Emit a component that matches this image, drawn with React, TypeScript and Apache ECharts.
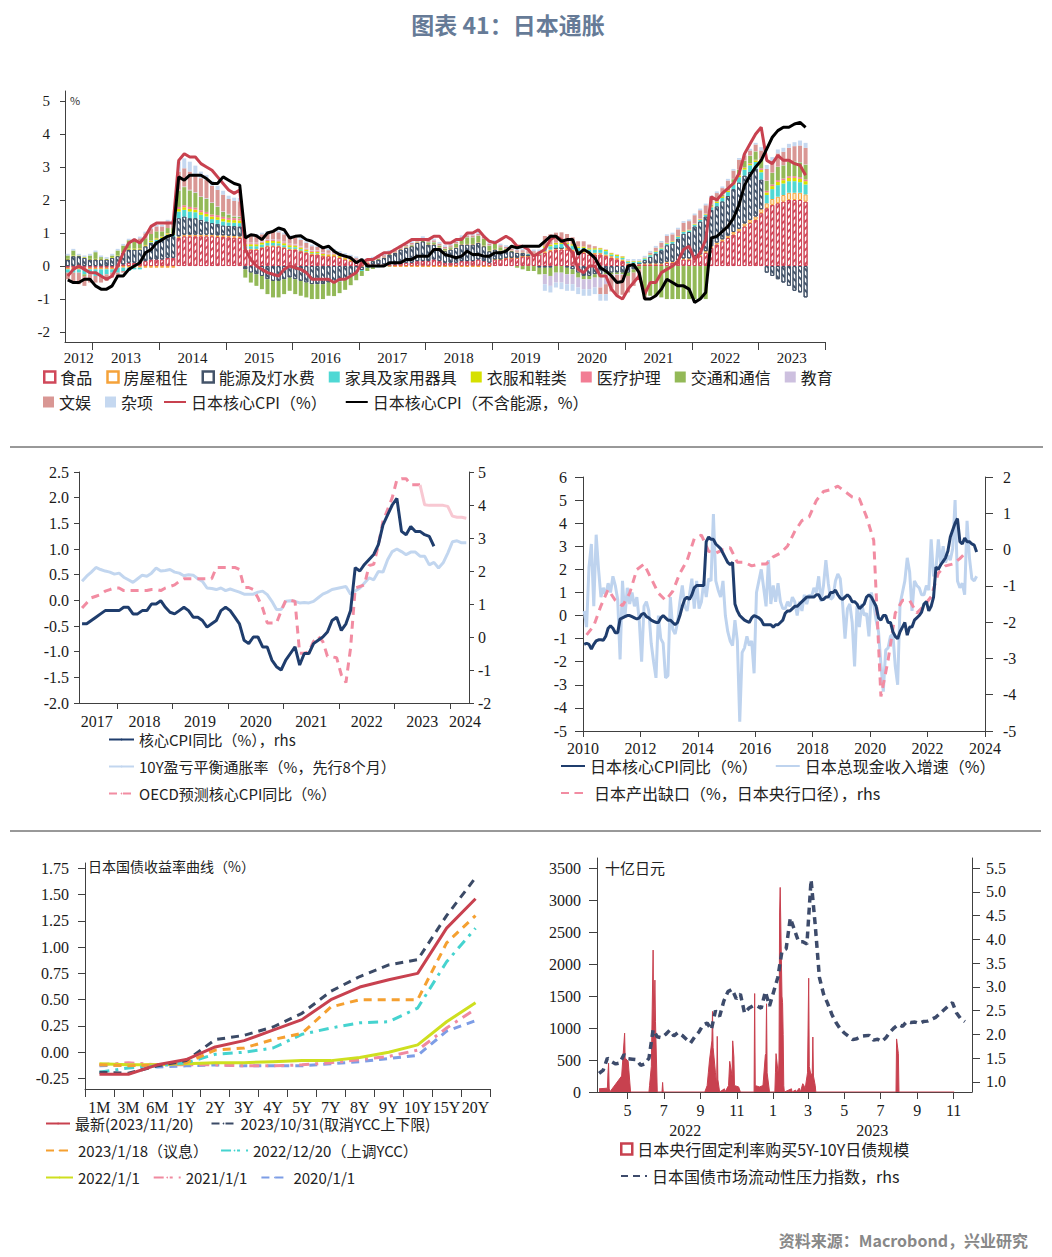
import React, { useEffect, useRef } from 'react';
import * as echarts from 'echarts';

const SERIF = 'Liberation Serif';
const CJK = 'Noto Sans CJK SC';

// ================= Panel 1: contributions to Japan core CPI (monthly, 2012-08 .. 2023-09) =================
const food = [
  [-0.05, -0.05, -0.05, -0.05, -0.05],
  [-0.05, -0.05, -0.05, -0.05, 0.0, 0.05, 0.1, 0.1, 0.1, 0.15, 0.2, 0.2],
  [0.2, 0.25, 0.25, 0.85, 0.9, 0.9, 0.9, 0.9, 0.9, 0.9, 0.88, 0.88],
  [0.87, 0.86, 0.85, 0.5, 0.5, 0.5, 0.55, 0.6, 0.6, 0.6, 0.55, 0.5],
  [0.5, 0.45, 0.4, 0.35, 0.35, 0.3, 0.3, 0.3, 0.25, 0.2, 0.15, 0.1],
  [0.1, 0.1, 0.05, 0.05, 0.05, 0.05, 0.05, 0.1, 0.1, 0.1, 0.15, 0.15],
  [0.15, 0.2, 0.15, 0.1, 0.1, 0.1, 0.15, 0.15, 0.15, 0.2, 0.15, 0.1],
  [0.2, 0.2, 0.25, 0.25, 0.25, 0.3, 0.3, 0.35, 0.35, 0.4, 0.45, 0.5],
  [0.5, 0.5, 0.45, 0.4, 0.4, 0.35, 0.35, 0.35, 0.3, 0.25, 0.2, 0.15],
  [0.05, 0.05, 0.05, 0.05, 0.05, 0.05, 0.05, 0.1, 0.1, 0.15, 0.2, 0.2],
  [0.25, 0.3, 0.4, 0.55, 0.65, 0.75, 0.85, 0.95, 1.05, 1.2, 1.3, 1.4],
  [1.6, 1.75, 1.85, 1.9, 1.95, 2.0, 2.0, 2.0, 1.95],
].flat();
const housing = [
  [-0.05, -0.05, -0.05, -0.05, -0.05],
  [-0.05, -0.05, -0.05, -0.05, -0.05, -0.05, -0.05, -0.05, -0.05, -0.05, -0.05, -0.05],
  [-0.05, -0.05, -0.05, 0.05, 0.05, 0.05, 0.05, 0.05, 0.05, 0.05, 0.05, 0.05],
  [0.05, 0.05, 0.05, 0.02, 0.02, 0.02, 0.02, 0.02, 0.02, 0.02, 0.02, 0.02],
  [0.02, 0.02, 0.02, 0.02, 0.02, 0.02, 0.02, 0.02, 0.02, 0.02, 0.02, 0.02],
  [-0.02, -0.02, -0.02, -0.02, -0.02, -0.02, -0.02, -0.02, -0.02, -0.02, -0.02, -0.02],
  [-0.02, -0.02, -0.02, -0.02, -0.02, -0.02, -0.02, -0.02, -0.02, -0.02, -0.02, -0.02],
  [0, 0, 0, 0, 0, 0, 0, 0, 0, 0.05, 0.05, 0.05],
  [0.05, 0.05, 0.05, 0.05, 0.05, 0.05, 0.05, 0.05, 0.05, 0.05, 0.05, 0.05],
  [0.03, 0.03, 0.03, 0.03, 0.03, 0.03, 0.03, 0.03, 0.03, 0.03, 0.03, 0.03],
  [0.05, 0.05, 0.05, 0.05, 0.06, 0.06, 0.07, 0.08, 0.08, 0.09, 0.1, 0.1],
  [0.12, 0.15, 0.18, 0.2, 0.2, 0.22, 0.22, 0.22, 0.22],
].flat();
const energy = [
  [0.2, 0.3, 0.3, 0.25, 0.2],
  [0.2, 0.2, 0.2, 0.25, 0.3, 0.35, 0.4, 0.4, 0.4, 0.45, 0.5, 0.55],
  [0.6, 0.65, 0.65, 0.55, 0.55, 0.5, 0.5, 0.45, 0.4, 0.35, 0.35, 0.3],
  [0.3, 0.3, 0.3, -0.1, -0.2, -0.25, -0.3, -0.4, -0.45, -0.45, -0.4, -0.35],
  [-0.4, -0.45, -0.5, -0.55, -0.55, -0.55, -0.5, -0.5, -0.45, -0.4, -0.3, -0.2],
  [-0.1, 0.0, 0.1, 0.15, 0.2, 0.3, 0.35, 0.4, 0.45, 0.5, 0.55, 0.6],
  [0.5, 0.45, 0.4, 0.35, 0.4, 0.45, 0.5, 0.5, 0.5, 0.5, 0.45, 0.35],
  [0.3, 0.25, 0.2, 0.2, 0.15, 0.1, 0.05, 0.0, -0.05, -0.05, -0.05, 0.0],
  [0.0, -0.05, -0.1, -0.2, -0.3, -0.3, -0.25, -0.25, -0.2, -0.2, -0.2, -0.2],
  [-0.2, -0.1, 0.0, 0.1, 0.2, 0.3, 0.4, 0.5, 0.55, 0.65, 0.75, 0.8],
  [0.9, 1.0, 1.05, 1.1, 1.1, 1.15, 1.2, 1.3, 1.4, 1.45, 1.45, 1.45],
  [0.9, -0.2, -0.3, -0.4, -0.5, -0.6, -0.75, -0.8, -0.95],
].flat();
const furniture = [
  [-0.1, -0.1, -0.1, -0.15, -0.15],
  [-0.2, -0.2, -0.15, -0.1, -0.15, -0.1, -0.1, -0.05, -0.05, 0.0, 0.02, 0.05],
  [0.05, 0.05, 0.05, 0.2, 0.2, 0.2, 0.18, 0.15, 0.15, 0.12, 0.12, 0.12],
  [0.1, 0.1, 0.1, 0.08, 0.08, 0.08, 0.08, 0.08, 0.08, 0.07, 0.06, 0.05],
  [0.05, 0.04, 0.03, 0.02, 0.02, 0.01, 0.0, -0.01, -0.02, -0.02, -0.03, -0.03],
  [-0.03, -0.03, -0.02, -0.02, -0.01, -0.01, 0, 0, 0, 0, 0, 0],
  [0, 0, 0, 0, 0, 0, 0, 0, 0, 0, 0, 0],
  [0, 0, 0, 0, 0, 0, 0.02, 0.02, 0.02, 0.1, 0.1, 0.1],
  [0.12, 0.12, 0.12, 0.1, 0.1, 0.1, 0.1, 0.1, 0.1, 0.05, 0.05, 0.05],
  [0.05, 0.05, 0.05, 0.05, 0.05, 0.05, 0.05, 0.05, 0.05, 0.05, 0.05, 0.05],
  [0.05, 0.05, 0.05, 0.08, 0.1, 0.1, 0.12, 0.14, 0.16, 0.18, 0.2, 0.2],
  [0.22, 0.25, 0.3, 0.35, 0.35, 0.35, 0.35, 0.32, 0.3],
].flat();
const clothing = [
  [0.02, 0.02, 0.02, 0.02, 0.02],
  [0.02, 0.02, 0.02, 0.02, 0.02, 0.02, 0.03, 0.03, 0.03, 0.03, 0.04, 0.04],
  [0.04, 0.04, 0.04, 0.08, 0.08, 0.08, 0.08, 0.08, 0.08, 0.08, 0.08, 0.08],
  [0.08, 0.08, 0.08, 0.06, 0.06, 0.06, 0.06, 0.06, 0.06, 0.06, 0.06, 0.06],
  [0.05, 0.05, 0.05, 0.04, 0.04, 0.04, 0.03, 0.03, 0.03, 0.02, 0.02, 0.02],
  [0.01, 0.01, 0.01, 0.01, 0.01, 0.01, 0.01, 0.01, 0.01, 0.01, 0.01, 0.01],
  [0.01, 0.01, 0.01, 0.01, 0.01, 0.01, 0.01, 0.01, 0.01, 0.01, 0.01, 0.01],
  [0.01, 0.01, 0.01, 0.01, 0.01, 0.01, 0.01, 0.01, 0.01, 0.05, 0.05, 0.05],
  [0.04, 0.04, 0.04, 0.04, 0.04, 0.04, 0.04, 0.04, 0.04, 0.04, 0.04, 0.04],
  [0.02, 0.02, 0.02, 0.02, 0.02, 0.02, 0.02, 0.02, 0.02, 0.02, 0.02, 0.02],
  [0.02, 0.02, 0.02, 0.03, 0.03, 0.03, 0.04, 0.04, 0.05, 0.05, 0.05, 0.05],
  [0.07, 0.08, 0.09, 0.1, 0.1, 0.1, 0.1, 0.1, 0.1],
].flat();
const medical = [
  [0, 0, 0, 0, 0],
  [0, 0, 0, 0, 0, 0, 0, 0, 0.01, 0.01, 0.01, 0.01],
  [0.01, 0.01, 0.01, 0.06, 0.06, 0.06, 0.06, 0.06, 0.06, 0.06, 0.06, 0.06],
  [0.06, 0.06, 0.06, 0.03, 0.03, 0.03, 0.03, 0.03, 0.03, 0.03, 0.03, 0.03],
  [0.03, 0.03, 0.03, 0.03, 0.03, 0.03, 0.03, 0.03, 0.03, 0.03, 0.03, 0.03],
  [0.01, 0.01, 0.01, 0.01, 0.01, 0.01, 0.01, 0.01, 0.01, 0.01, 0.01, 0.01],
  [0.01, 0.01, 0.01, 0.01, 0.01, 0.01, 0.01, 0.01, 0.01, 0.01, 0.01, 0.01],
  [0.01, 0.01, 0.01, 0.01, 0.01, 0.01, 0.01, 0.01, 0.01, 0.01, 0.01, 0.01],
  [0.01, 0.01, 0.01, 0.01, 0.01, 0.01, 0.01, 0.01, 0.01, 0.01, 0.01, 0.01],
  [0.01, 0.01, 0.01, 0.01, 0.01, 0.01, 0.01, 0.01, 0.01, 0.01, 0.01, 0.01],
  [0.01, 0.01, 0.01, 0.01, 0.01, 0.01, 0.02, 0.02, 0.02, 0.02, 0.02, 0.02],
  [0.05, 0.05, 0.05, 0.05, 0.05, 0.05, 0.05, 0.05, 0.05],
].flat();
const transport = [
  [0.1, 0.15, 0.0, -0.05, 0.1],
  [0.2, 0.05, 0.0, 0.05, 0.15, 0.2, 0.25, 0.2, 0.2, 0.2, 0.2, 0.2],
  [0.15, 0.15, 0.15, 0.5, 0.55, 0.5, 0.45, 0.4, 0.4, 0.35, 0.25, 0.15],
  [0.1, 0.05, 0.05, -0.25, -0.3, -0.35, -0.4, -0.45, -0.5, -0.5, -0.45, -0.4],
  [-0.45, -0.45, -0.45, -0.45, -0.45, -0.45, -0.4, -0.4, -0.35, -0.3, -0.25, -0.2],
  [-0.15, -0.1, -0.05, 0, 0, 0, 0, 0, 0.02, 0.02, 0.02, 0.02],
  [0.05, 0.05, 0.05, 0.05, 0.05, 0.1, 0.15, 0.2, 0.2, 0.2, 0.2, 0.15],
  [0.15, 0.1, 0.05, 0.0, -0.05, -0.1, -0.15, -0.15, -0.2, -0.2, -0.25, -0.2],
  [-0.2, -0.2, -0.15, -0.15, -0.1, -0.1, -0.1, -0.1, -0.05, -0.05, -0.05, -0.05],
  [-0.1, -0.1, -0.1, -0.9, -0.9, -0.9, -0.95, -1.0, -1.0, -1.0, -1.0, -1.0],
  [-1.0, -1.0, -1.0, 0.05, 0.05, 0.05, 0.08, 0.1, 0.15, 0.2, 0.22, 0.25],
  [0.28, 0.3, 0.35, 0.4, 0.4, 0.45, 0.45, 0.45, 0.45],
].flat();
const education = [
  [0, 0, 0, 0, 0],
  [0, 0, 0, 0, 0, 0, 0, 0, 0, 0, 0, 0],
  [0, 0, 0, 0.02, 0.02, 0.02, 0.02, 0.02, 0.02, 0.02, 0.02, 0.02],
  [0.02, 0.02, 0.02, 0.02, 0.02, 0.02, 0.02, 0.02, 0.02, 0.02, 0.02, 0.02],
  [0.02, 0.02, 0.02, 0.02, 0.02, 0.02, 0.02, 0.02, 0.02, 0.02, 0.02, 0.02],
  [0.01, 0.01, 0.01, 0.01, 0.01, 0.01, 0.01, 0.01, 0.01, 0.01, 0.01, 0.01],
  [0.01, 0.01, 0.01, 0.01, 0.01, 0.01, 0.01, 0.01, 0.01, 0.01, 0.01, 0.01],
  [0.01, 0.01, 0.01, 0.01, 0.01, 0.01, 0.01, 0.01, 0.01, -0.3, -0.3, -0.3],
  [-0.3, -0.3, -0.3, -0.3, -0.3, -0.3, -0.3, -0.3, -0.3, -0.02, -0.02, -0.02],
  [0, 0, 0, 0, 0, 0, 0, 0, 0, 0, 0, 0],
  [0.01, 0.01, 0.01, 0.01, 0.01, 0.01, 0.01, 0.01, 0.01, 0.01, 0.01, 0.01],
  [0.01, 0.01, 0.01, 0.01, 0.01, 0.01, 0.01, 0.01, 0.01],
].flat();
const culture = [
  [-0.2, -0.3, -0.35, -0.3, -0.25],
  [-0.2, -0.2, -0.2, -0.15, -0.1, -0.05, 0.0, 0.05, 0.1, 0.15, 0.15, 0.15],
  [0.15, 0.2, 0.2, 0.55, 0.55, 0.55, 0.55, 0.55, 0.55, 0.5, 0.5, 0.5],
  [0.45, 0.45, 0.45, 0.2, 0.2, 0.2, 0.2, 0.2, 0.22, 0.22, 0.22, 0.2],
  [0.2, 0.18, 0.15, 0.12, 0.1, 0.1, 0.08, 0.06, 0.05, 0.05, 0.05, 0.05],
  [0.05, 0.05, 0.05, 0.05, 0.05, 0.05, 0.05, 0.05, 0.05, 0.05, 0.05, 0.05],
  [0.05, 0.05, 0.05, 0.05, 0.05, 0.05, 0.05, 0.05, 0.05, 0.05, 0.05, 0.05],
  [0.05, 0.05, 0.05, 0.05, 0.05, 0.05, 0.05, 0.05, 0.05, 0.3, 0.3, 0.3],
  [0.3, 0.25, 0.2, 0.15, 0.15, 0.1, 0.05, -0.2, -0.3, -0.5, -0.6, -0.6],
  [-0.5, -0.4, -0.3, -0.1, 0.05, 0.1, 0.15, 0.2, 0.2, 0.2, 0.25, 0.25],
  [0.25, 0.25, 0.25, 0.2, 0.2, 0.2, 0.2, 0.25, 0.3, 0.15, 0.15, 0.2],
  [0.25, 0.35, 0.35, 0.4, 0.4, 0.4, 0.45, 0.5, 0.5],
].flat();
const misc = [
  [0.05, 0.05, 0.05, 0.05, 0.05],
  [0.05, 0.05, 0.05, 0.05, 0.05, 0.05, 0.05, 0.05, 0.05, 0.05, 0.05, 0.05],
  [0.05, 0.05, 0.05, 0.3, 0.3, 0.3, 0.25, 0.2, 0.15, 0.15, 0.12, 0.12],
  [0.1, 0.1, 0.1, 0.05, 0.05, 0.05, 0.05, 0.05, 0.05, 0.05, 0.05, 0.05],
  [0.05, 0.05, 0.05, 0.05, 0.05, 0.05, 0.05, 0.05, 0.05, 0.05, 0.05, 0.05],
  [0.05, 0.05, 0.05, 0.05, 0.05, 0.05, 0.05, 0.05, 0.05, 0.05, 0.05, 0.05],
  [0.05, 0.05, 0.05, 0.05, 0.05, 0.05, 0.05, 0.05, 0.05, 0.05, 0.05, 0.05],
  [0.05, 0.05, 0.05, 0.05, 0.05, 0.05, 0.05, 0.05, 0.05, -0.2, -0.2, -0.15],
  [-0.2, -0.2, -0.2, -0.2, -0.2, -0.2, -0.2, -0.2, -0.2, 0, 0, 0],
  [0.05, 0.05, 0.05, 0.05, 0.05, 0.05, 0.05, 0.05, 0.05, 0.05, 0.05, 0.05],
  [0.05, 0.05, 0.05, 0.05, 0.05, 0.05, 0.05, 0.05, 0.05, 0.05, 0.05, 0.05],
  [0.1, 0.12, 0.12, 0.12, 0.12, 0.12, 0.12, 0.15, 0.15],
].flat();
// core CPI ex energy (black line), 2012-08 .. 2023-09
const coreExEnergy = [
  [-0.42, -0.5, -0.5, -0.4, -0.4],
  [-0.6, -0.7, -0.7, -0.6, -0.3, -0.3, -0.1, 0.0, 0.1, 0.4, 0.5, 0.7],
  [0.8, 0.9, 0.95, 2.7, 2.6, 2.75, 2.75, 2.75, 2.65, 2.5, 2.5, 2.7],
  [2.6, 2.5, 2.45, 0.85, 0.95, 0.92, 0.8, 1.0, 1.05, 1.15, 1.1, 0.85],
  [0.9, 0.92, 0.8, 0.75, 0.65, 0.55, 0.6, 0.45, 0.35, 0.3, 0.25, 0.1],
  [0.2, 0.0, 0.0, 0.0, 0.0, 0.1, 0.1, 0.1, 0.2, 0.2, 0.3, 0.3],
  [0.3, 0.5, 0.5, 0.35, 0.3, 0.25, 0.3, 0.45, 0.35, 0.35, 0.3, 0.3],
  [0.4, 0.4, 0.45, 0.6, 0.55, 0.6, 0.6, 0.6, 0.6, 0.75, 0.9, 0.9],
  [0.75, 0.8, 0.8, 0.35, 0.5, 0.4, 0.25, -0.05, -0.15, -0.3, -0.5, -0.47],
  [0.0, 0.05, -0.2, -1.0, -1.0, -0.9, -0.7, -0.4, -0.5, -0.6, -0.6, -0.7],
  [-1.1, -1.0, -0.8, 0.85, 0.9, 1.05, 1.2, 1.45, 1.85, 2.45, 2.75, 3.0],
  [3.2, 3.55, 3.9, 4.1, 4.2, 4.2, 4.3, 4.35, 4.2],
].flat();

// ================= Japan core CPI y/y (monthly, 2010-01 .. 2023-09), shared by three panels =================
const coreCPI = [
  [-1.25, -1.2, -1.25, -1.45, -1.25, -1.1, -1.05, -1.05, -1.07, -0.9, -0.55, -0.45],
  [-0.55, -0.75, -0.75, -0.15, -0.1, -0.05, 0.0, 0.0, -0.05, -0.1, -0.15, -0.1],
  [0.05, 0.1, -0.05, -0.1, -0.2, -0.25, -0.3, -0.3, -0.1, 0.0, -0.1, -0.2],
  [-0.2, -0.3, -0.4, -0.3, 0.0, 0.4, 0.7, 0.8, 0.7, 0.9, 1.2, 1.3],
  [1.3, 1.3, 1.3, 3.2, 3.4, 3.3, 3.3, 3.1, 3.0, 2.9, 2.7, 2.5],
  [2.3, 2.2, 2.3, 0.5, 0.2, 0.0, -0.1, -0.2, -0.25, -0.3, -0.1, 0.0],
  [-0.05, -0.1, -0.2, -0.4, -0.4, -0.4, -0.4, -0.5, -0.4, -0.4, -0.3, -0.2],
  [0.1, 0.2, 0.2, 0.3, 0.4, 0.4, 0.5, 0.6, 0.7, 0.8, 0.8, 0.8],
  [0.8, 0.9, 0.9, 0.7, 0.7, 0.8, 0.8, 1.0, 1.0, 1.1, 0.9, 0.75],
  [0.7, 0.8, 0.9, 0.8, 0.6, 0.6, 0.5, 0.3, 0.4, 0.5, 0.8, 0.9],
  [0.8, 0.6, 0.4, -0.1, -0.2, 0.0, 0.0, -0.3, -0.3, -0.7, -0.9, -1.0],
  [-0.7, -0.5, -0.3, -0.85, -0.5, -0.5, -0.2, -0.1, 0.0, 0.15, 0.5, 0.6],
  [0.2, 0.4, 0.8, 2.1, 2.0, 2.2, 2.35, 2.5, 2.8, 3.4, 3.7, 4.0],
  [4.2, 3.2, 3.1, 3.35, 3.2, 3.2, 3.1, 3.05, 2.75],
].flat();

// ================= Panel 2: breakeven & OECD (monthly from 2017-05) =================
const breakeven = [
  [0.37, 0.47, 0.55, 0.64, 0.6, 0.57, 0.55, 0.51],
  [0.53, 0.45, 0.4, 0.35, 0.42, 0.49, 0.47, 0.53, 0.63, 0.57, 0.58, 0.6],
  [0.55, 0.53, 0.48, 0.5, 0.49, 0.42, 0.37, 0.24, 0.23, 0.21, 0.24, 0.19],
  [0.22, 0.19, 0.16, 0.12, 0.12, 0.12, 0.16, 0.18, 0.11, -0.02, -0.18, -0.18],
  [-0.02, -0.01, -0.02, -0.05, -0.04, -0.05, -0.02, 0.05, 0.12, 0.16, 0.21, 0.23],
  [0.25, 0.27, 0.12, 0.18, 0.24, 0.34, 0.44, 0.4, 0.56, 0.55, 0.79, 0.95],
  [1.0, 0.95, 0.89, 0.94, 0.94, 0.86, 0.86, 0.69, 0.74, 0.63, 0.73, 0.92],
  [1.14, 1.16, 1.12, 1.12],
].flat();
const oecdCore = [
  [-0.15, -0.05, 0.05, 0.08, 0.11, 0.18, 0.21, 0.24],
  [0.24, 0.19, 0.19, 0.19, 0.19, 0.19, 0.19, 0.21, 0.21, 0.19, 0.24, 0.27],
  [0.3, 0.37, 0.42, 0.42, 0.42, 0.42, 0.42, 0.42, 0.42, 0.64, 0.64, 0.64],
  [0.64, 0.64, 0.6, 0.25, 0.25, 0.21, 0.05, -0.15, -0.44, -0.44, -0.44, -0.21],
  [0.0, 0.0, -0.02, -1.03, -1.03, -1.0, -0.8, -0.7, -0.8, -1.09, -1.1, -1.12],
  [-1.45, -1.6, -0.93, 0.24, 0.27, 0.3, 0.68, 0.7, 1.08, 1.54, 1.77, 2.0],
  [2.35, 2.37, 2.37, 2.25, 2.25, 2.25],
].flat();
// OECD projection continuation (2023-06 .. 2024-04)
const oecdProj = [2.25, 1.86, 1.85, 1.85, 1.85, 1.85, 1.83, 1.64, 1.62, 1.62, 1.6];

// ================= Panel 3: wages & output gap =================
const wages = [
  [0.2, -0.5, 2.1, 3.1, 0.4, 3.5, 2.0, 0.8, 1.2, 0.9, 1.4, 1.0],
  [1.7, 1.3, 0.7, -1.9, 1.5, -0.1, 1.2, 0.5, 1.0, 0.4, 0.8, -0.2],
  [-2.0, 0.4, 0.6, 0.2, -1.2, -2.0, -2.7, 0.0, -1.0, -1.2, -2.7, -2.6],
  [0.8, -0.6, -0.8, -0.3, 0.6, 1.3, 0.4, 0.2, 0.9, 1.6, 0.3, 1.5],
  [0.3, 0.6, 1.5, 0.8, 1.6, 1.5, 4.4, 1.5, 1.1, 0.8, 1.5, 0.0],
  [-0.7, -1.1, -1.3, -0.2, -1.1, -4.6, -1.6, -1.4, -0.9, -1.3, -1.1, -2.5],
  [1.0, 1.5, 2.0, 1.2, 0.4, 2.4, 0.5, 1.3, 0.6, 1.4, 0.6, 0.3],
  [0.3, 0.6, 0.4, 0.8, 0.6, 0.0, 0.6, 0.2, 0.9, 0.5, 0.9, 0.8],
  [1.2, 1.0, 1.7, 0.6, 1.3, 2.4, 1.4, 0.7, 0.8, 1.5, 1.8, 1.6],
  [0.5, -1.0, 0.3, 0.5, -0.3, -2.2, 0.4, -0.5, 0.5, 0.0, 0.1, -0.9],
  [1.0, 0.5, -0.2, -0.7, -2.1, -3.3, -1.5, -1.4, -0.9, -0.8, -2.2, -3.0],
  [0.5, 1.0, 1.5, 2.5, 1.9, 0.2, 1.5, 1.3, 1.2, 0.9, 0.9, 1.3],
  [1.1, 3.3, 1.7, 2.0, 3.3, 2.2, 3.0, 2.3, 2.6, 2.4, 2.9, 5.0],
  [1.5, 1.2, 1.4, 0.9, 4.1, 2.5, 1.6, 1.5, 1.7],
].flat();
// BOJ output gap, quarterly 2010Q1 .. 2023Q2
const outputGap = [
  -2.35, -2.1, -1.55, -1.1,
  -1.4, -1.55, -1.2, -0.55,
  -0.4, -0.8, -1.2, -1.4,
  -1.15, -0.65, -0.3, 0.3,
  0.4, -0.05, -0.1, 0.0,
  0.05, -0.35, -0.35, -0.45,
  -0.4, -0.4, -0.2, -0.1,
  0.1, 0.5, 0.8, 0.9,
  1.35, 1.6, 1.65, 1.75,
  1.6, 1.45, 1.4, 0.9,
  0.25, -4.05, -3.05, -1.75,
  -1.4, -1.4, -1.75, -1.55,
  -1.3, -0.65, -0.45, -0.4,
  -0.25, -0.05,
];

// ================= Panel 4: JGB yield curves =================
const tenors = ['1M', '3M', '6M', '1Y', '2Y', '3Y', '4Y', '5Y', '7Y', '8Y', '9Y', '10Y', '15Y', '20Y'];
const yLatest = [-0.21, -0.21, -0.12, -0.07, 0.05, 0.11, 0.21, 0.31, 0.5, 0.62, 0.69, 0.75, 1.18, 1.46];
const yOct31 = [-0.19, -0.2, -0.13, -0.08, 0.12, 0.16, 0.24, 0.37, 0.58, 0.72, 0.83, 0.88, 1.3, 1.66];
const yJan18 = [-0.12, -0.13, -0.12, -0.1, 0.02, 0.04, 0.12, 0.18, 0.43, 0.5, 0.5, 0.5, 1.04, 1.3];
const yDec20 = [-0.19, -0.15, -0.13, -0.1, -0.02, 0.0, 0.04, 0.17, 0.23, 0.28, 0.29, 0.42, 0.86, 1.18];
const y2022 = [-0.11, -0.12, -0.12, -0.11, -0.1, -0.1, -0.09, -0.08, -0.08, -0.05, 0.0, 0.07, 0.29, 0.47];
const y2021 = [-0.12, -0.1, -0.12, -0.12, -0.12, -0.13, -0.13, -0.12, -0.1, -0.07, -0.04, 0.02, 0.23, 0.41];
const y2020 = [-0.13, -0.12, -0.14, -0.13, -0.12, -0.13, -0.13, -0.13, -0.11, -0.09, -0.06, -0.03, 0.2, 0.3];

// ================= Panel 5: BOJ fixed-rate purchases & JGB liquidity =================
const bojDates = [
  '2022-03-14', '2022-03-28', '2022-03-29', '2022-03-30', '2022-03-31', '2022-04-01', '2022-04-21', '2022-04-26',
  '2022-04-27', '2022-04-28', '2022-05-02', '2022-05-06', '2022-06-06', '2022-06-07', '2022-06-10', '2022-06-13',
  '2022-06-14', '2022-06-15', '2022-06-16', '2022-06-17', '2022-06-20', '2022-06-28', '2022-06-29', '2022-06-30',
  '2022-09-08', '2022-09-12', '2022-09-14', '2022-09-16', '2022-09-20', '2022-09-21', '2022-09-22', '2022-09-26',
  '2022-09-28', '2022-09-29', '2022-09-30', '2022-10-03', '2022-10-11', '2022-10-12', '2022-10-18', '2022-10-20',
  '2022-10-24', '2022-10-25', '2022-10-27', '2022-10-28', '2022-11-04', '2022-11-07', '2022-11-30', '2022-12-01',
  '2022-12-02', '2022-12-09', '2022-12-15', '2022-12-19', '2022-12-20', '2022-12-21', '2022-12-22', '2022-12-26',
  '2023-01-04', '2023-01-05', '2023-01-06', '2023-01-10', '2023-01-11', '2023-01-12', '2023-01-13', '2023-01-16',
  '2023-01-17', '2023-01-18', '2023-01-19', '2023-01-20', '2023-02-01', '2023-02-02', '2023-02-08', '2023-02-09',
  '2023-02-14', '2023-02-16', '2023-02-20', '2023-02-22', '2023-02-24', '2023-02-28', '2023-03-02', '2023-03-03',
  '2023-03-06', '2023-03-08', '2023-03-09', '2023-03-10', '2023-03-13', '2023-03-14', '2023-07-27', '2023-07-28',
  '2023-07-31', '2023-08-01', '2023-11-02',
];
const bojAmounts = [
  50, 60, 300, 450, 60, 0, 250, 920,
  500, 520, 480, 0, 0, 100, 400, 2220,
  1000, 1300, 1750, 1100, 0, 0, 150, 0,
  0, 100, 300, 500, 800, 1260, 700, 300,
  100, 870, 200, 0, 50, 0, 100, 480,
  250, 800, 550, 100, 80, 0, 0, 1540,
  100, 80, 100, 580, 600, 1380, 300, 0,
  0, 300, 600, 250, 500, 2800, 3200, 1500,
  1400, 900, 100, 0, 50, 0, 30, 0,
  60, 0, 130, 100, 50, 300, 1780, 400,
  250, 300, 860, 250, 100, 0, 0, 830,
  600, 0, 0,
];
// JGB market liquidity stress index, weekly from 2022-03-14
const LIQ_START = '2022-03-14';
const liquidity = [
  1.18, 1.25, 1.5, 1.43, 1.38, 1.4, 1.58, 1.49, 1.48, 1.47,
  1.35, 1.38, 1.5, 2.1, 1.95, 1.93, 2.0, 2.09, 1.97, 2.04,
  1.98, 1.9, 1.82, 1.95, 2.05, 2.2, 2.24, 2.1, 2.5, 2.38,
  2.7, 2.9, 2.95, 2.75, 2.85, 2.45, 2.55, 2.6, 2.6, 2.55,
  2.9, 2.6, 2.9, 3.2, 3.75, 3.8, 4.45, 4.2, 3.95, 3.95,
  3.9, 5.25, 4.3, 3.2, 2.85, 2.65, 2.42, 2.25, 2.12, 2.03,
  1.96, 1.89, 1.91, 1.96, 1.97, 1.98, 1.88, 1.9, 1.85, 1.93,
  2.05, 2.14, 2.21, 2.17, 2.27, 2.25, 2.26, 2.23, 2.27, 2.28,
  2.32, 2.36, 2.44, 2.52, 2.6, 2.67, 2.45, 2.33, 2.27,
];
const monthTickDates = ['2022-05-01', '2022-07-01', '2022-09-01', '2022-11-01', '2023-01-01', '2023-03-01', '2023-05-01', '2023-07-01', '2023-09-01', '2023-11-01'];

// ================= helpers =================
const monthX = (y0: number, m0: number, i: number) => y0 + (m0 - 1 + i + 0.5) / 12;
const toPairs = (vals: number[], y0: number, m0: number) => vals.map((v, i) => [monthX(y0, m0, i), v]);
const DAY0 = Date.UTC(2022, 0, 1);
const dayOf = (s: string) => {
  const [y, m, d] = s.split('-').map(Number);
  return (Date.UTC(y, m - 1, d) - DAY0) / 86400000;
};
// month categories for panel 1 axis: 2012-08 .. 2023-12
const topMonths: string[] = [];
for (let y = 2012; y <= 2023; y++) {
  for (let m = 1; m <= 12; m++) {
    if (y === 2012 && m < 8) continue;
    topMonths.push(`${y}-${m < 10 ? '0' + m : m}`);
  }
}

const AX = '#404040';
const lbl = (extra: any = {}) => ({ fontFamily: SERIF, fontSize: 16, color: '#1a1a1a', ...extra });
const line = { show: true, onZero: false, lineStyle: { color: AX, width: 1 } };
const tick = (extra: any = {}) => ({ show: true, lineStyle: { color: AX, width: 1 }, ...extra });
const legendText = { fontFamily: CJK, fontSize: 16, color: '#222' };

const hatch = (color: string, rot: number) => ({
  symbol: 'rect',
  symbolSize: 1,
  color,
  dashArrayX: [1, 0],
  dashArrayY: [1.5, 3],
  rotation: rot,
});

function buildOption(): any {
  const barDefs = [
    { name: '食品', data: food, style: { color: '#ffffff', borderColor: '#d0485a', borderWidth: 1, decal: hatch('#d0485a', -Math.PI / 4) } },
    { name: '房屋租住', data: housing, style: { color: '#fde7c4', borderColor: '#f5a23a', borderWidth: 1 } },
    { name: '能源及灯水费', data: energy, style: { color: '#ffffff', borderColor: '#44546a', borderWidth: 1, decal: hatch('#44546a', Math.PI / 4) } },
    { name: '家具及家用器具', data: furniture, style: { color: '#4fd8d4' } },
    { name: '衣服和鞋类', data: clothing, style: { color: '#d6e000' } },
    { name: '医疗护理', data: medical, style: { color: '#f27d94' } },
    { name: '交通和通信', data: transport, style: { color: '#93b957' } },
    { name: '教育', data: education, style: { color: '#cdc0df' } },
    { name: '文娱', data: culture, style: { color: '#d99794' } },
    { name: '杂项', data: misc, style: { color: '#c5d8f0' } },
  ];
  const barSeries = barDefs.map((d) => ({
    type: 'bar',
    name: d.name,
    xAxisIndex: 0,
    yAxisIndex: 0,
    stack: 'cpi',
    barWidth: 4,
    data: d.data,
    itemStyle: d.style,
  }));

  const liqStartDay = dayOf(LIQ_START);
  const curveDefs = [
    { name: '2020/1/1', data: y2020, color: '#7d9de6', type: [8, 6] },
    { name: '2021/1/1', data: y2021, color: '#f08aa0', type: [10, 6, 3, 6] },
    { name: '2022/1/1', data: y2022, color: '#cedf1f', type: 'solid' },
    { name: '2022/12/20（上调YCC）', data: yDec20, color: '#45d3cf', type: [10, 6, 3, 6] },
    { name: '2023/1/18（议息）', data: yJan18, color: '#f5a030', type: [8, 6] },
    { name: '2023/10/31(取消YCC上下限)', data: yOct31, color: '#3b4a66', type: [8, 6] },
    { name: '最新(2023/11/20)', data: yLatest, color: '#c8414f', type: 'solid' },
  ];
  const lineLegend = { padding: 0, itemHeight: 2, selectedMode: false };

  return {
    animation: false,
    backgroundColor: '#ffffff',
    textStyle: { fontFamily: CJK },
    grid: [
      { left: 65, top: 91, width: 760, height: 251, outerBoundsMode: 'none' },
      { left: 79, top: 472, width: 390, height: 231, outerBoundsMode: 'none' },
      { left: 583, top: 477, width: 402, height: 254, outerBoundsMode: 'none' },
      { left: 85, top: 863, width: 405, height: 226, outerBoundsMode: 'none' },
      { left: 597, top: 858, width: 375, height: 234, outerBoundsMode: 'none' },
    ],
    xAxis: [
      {
        type: 'category', gridIndex: 0, data: topMonths, boundaryGap: true, position: 'bottom',
        axisLine: { show: false, onZero: false }, splitLine: { show: false }, axisTick: { show: false }, axisLabel: { show: false },
      },
      {
        type: 'value', gridIndex: 1, min: 2017.32, max: 2024.34,
        axisLine: line, splitLine: { show: false },
        axisTick: tick({ length: 6, customValues: [2018, 2019, 2020, 2021, 2022, 2023, 2024] }),
        axisLabel: lbl({ margin: 10, customValues: [2017.64, 2018.5, 2019.5, 2020.5, 2021.5, 2022.5, 2023.5, 2024.27], formatter: (v: number) => String(Math.floor(v)) }),
      },
      {
        type: 'value', gridIndex: 2, min: 2010, max: 2024, interval: 2,
        axisLine: line, splitLine: { show: false },
        axisTick: tick({ length: 6 }),
        axisLabel: lbl({ margin: 9, formatter: (v: number) => String(v) }),
      },
      {
        type: 'category', gridIndex: 3, data: tenors, boundaryGap: true,
        axisLine: line, splitLine: { show: false },
        axisTick: tick({ length: 8, interval: 0 }),
        axisLabel: lbl({ margin: 10, interval: 0 }),
      },
      {
        type: 'value', gridIndex: 4, min: 68.5, max: 700,
        axisLine: line, splitLine: { show: false },
        axisTick: tick({ length: 7, customValues: monthTickDates.map(dayOf) }),
        axisLabel: lbl({ margin: 10, customValues: monthTickDates.map(dayOf), formatter: (v: number) => String(new Date(DAY0 + Math.round(v) * 86400000).getUTCMonth() + 1) }),
      },
      {
        type: 'value', gridIndex: 4, min: 68.5, max: 700, position: 'bottom', offset: 20,
        axisLine: { show: false, onZero: false }, axisTick: { show: false }, splitLine: { show: false },
        axisLabel: lbl({ margin: 10, customValues: [217, 532], formatter: (v: number) => (v < 365 ? '2022' : '2023') }),
      },
      {
        // year ticks/labels and axis line for panel 1 (decimal years)
        type: 'value', gridIndex: 0, min: 2012 + 7 / 12, max: 2024, position: 'bottom',
        axisLine: line, splitLine: { show: false },
        axisTick: tick({ length: 8, customValues: [2013, 2014, 2015, 2016, 2017, 2018, 2019, 2020, 2021, 2022, 2023, 2024] }),
        axisLabel: lbl({ fontSize: 15, margin: 8, customValues: [2012.79, 2013.5, 2014.5, 2015.5, 2016.5, 2017.5, 2018.5, 2019.5, 2020.5, 2021.5, 2022.5, 2023.5], formatter: (v: number) => String(Math.floor(v)) }),
      },
    ],
    yAxis: [
      {
        type: 'value', gridIndex: 0, min: -2.3, max: 5.3,
        axisLine: line, splitLine: { show: false },
        axisTick: tick({ length: 5, customValues: [-2, -1, 0, 1, 2, 3, 4, 5] }),
        axisLabel: lbl({ fontSize: 15, margin: 15, customValues: [-2, -1, 0, 1, 2, 3, 4, 5] }),
      },
      {
        type: 'value', gridIndex: 1, min: -2, max: 2.5, interval: 0.5,
        axisLine: line, splitLine: { show: false }, axisTick: tick({ length: 5 }),
        axisLabel: lbl({ margin: 10, formatter: (v: number) => v.toFixed(1) }),
      },
      {
        type: 'value', gridIndex: 1, min: -2, max: 5, interval: 1, position: 'right',
        axisLine: line, splitLine: { show: false }, axisTick: tick({ length: 5 }),
        axisLabel: lbl({ margin: 9 }),
      },
      {
        type: 'value', gridIndex: 2, min: -5, max: 6, interval: 1,
        axisLine: line, splitLine: { show: false }, axisTick: tick({ length: 8 }),
        axisLabel: lbl({ margin: 16 }),
      },
      {
        type: 'value', gridIndex: 2, min: -5, max: 2, interval: 1, position: 'right',
        axisLine: line, splitLine: { show: false }, axisTick: tick({ length: 8 }),
        axisLabel: lbl({ margin: 18 }),
      },
      {
        type: 'value', gridIndex: 3, min: -0.35, max: 1.8,
        axisLine: line, splitLine: { show: false },
        axisTick: tick({ length: 7, customValues: [-0.25, 0, 0.25, 0.5, 0.75, 1, 1.25, 1.5, 1.75] }),
        axisLabel: lbl({ margin: 16, customValues: [-0.25, 0, 0.25, 0.5, 0.75, 1, 1.25, 1.5, 1.75], formatter: (v: number) => v.toFixed(2) }),
      },
      {
        type: 'value', gridIndex: 4, min: 0, max: 3660,
        axisLine: line, splitLine: { show: false },
        axisTick: tick({ length: 8, customValues: [0, 500, 1000, 1500, 2000, 2500, 3000, 3500] }),
        axisLabel: lbl({ margin: 16, customValues: [0, 500, 1000, 1500, 2000, 2500, 3000, 3500], formatter: (v: number) => String(Math.round(v)) }),
      },
      {
        type: 'value', gridIndex: 4, min: 0.789, max: 5.711, position: 'right',
        axisLine: line, splitLine: { show: false },
        axisTick: tick({ length: 8, customValues: [1, 1.5, 2, 2.5, 3, 3.5, 4, 4.5, 5, 5.5] }),
        axisLabel: lbl({ margin: 14, customValues: [1, 1.5, 2, 2.5, 3, 3.5, 4, 4.5, 5, 5.5], formatter: (v: number) => v.toFixed(1) }),
      },
    ],
    legend: [
      {
        left: 43, top: 369, padding: 0, itemWidth: 11, itemHeight: 11, itemGap: 14, icon: 'rect', selectedMode: false, textStyle: legendText,
        data: [
          { name: '食品', itemStyle: { color: '#ffffff', borderColor: '#d0485a', borderWidth: 2.5, decal: 'none' } },
          { name: '房屋租住', itemStyle: { color: '#ffffff', borderColor: '#f5a23a', borderWidth: 2.5, decal: 'none' } },
          { name: '能源及灯水费', itemStyle: { color: '#ffffff', borderColor: '#44546a', borderWidth: 2.5, decal: 'none' } },
          '家具及家用器具', '衣服和鞋类', '医疗护理', '交通和通信', '教育',
        ],
      },
      { left: 43, top: 394, padding: 0, itemWidth: 11, itemHeight: 11, itemGap: 14, icon: 'rect', selectedMode: false, textStyle: legendText, data: ['文娱', '杂项'] },
      { ...lineLegend, left: 163, top: 394, itemWidth: 22, itemGap: 18, textStyle: legendText, data: ['日本核心CPI（%）', '日本核心CPI（不含能源，%）'] },
      { ...lineLegend, left: 108, top: 732, orient: 'vertical', itemWidth: 25, itemGap: 12, textStyle: { ...legendText, fontSize: 15 }, data: ['核心CPI同比（%），rhs', '10Y盈亏平衡通胀率（%，先行8个月）', 'OECD预测核心CPI同比（%）'] },
      { ...lineLegend, left: 560, top: 758, itemWidth: 24, itemGap: 17, textStyle: legendText, data: ['日本核心CPI同比（%）', '日本总现金收入增速（%）'] },
      { ...lineLegend, left: 560, top: 785, itemWidth: 28, textStyle: legendText, data: ['日本产出缺口（%，日本央行口径），rhs'] },
      { ...lineLegend, left: 45, top: 1116, itemWidth: 24, itemGap: 17, textStyle: { ...legendText, fontSize: 15 }, data: ['最新(2023/11/20)', '2023/10/31(取消YCC上下限)'] },
      { ...lineLegend, left: 45, top: 1143, itemWidth: 27, itemGap: 12, textStyle: { ...legendText, fontSize: 15 }, data: ['2023/1/18（议息）', '2022/12/20（上调YCC）'] },
      { ...lineLegend, left: 45, top: 1170, itemWidth: 27, itemGap: 13, textStyle: { ...legendText, fontSize: 15 }, data: ['2022/1/1', '2021/1/1', '2020/1/1'] },
      { left: 620, top: 1141, padding: 0, itemWidth: 11, itemHeight: 11, selectedMode: false, textStyle: legendText, data: [{ name: '日本央行固定利率购买5Y-10Y日债规模', icon: 'rect', itemStyle: { color: '#ffffff', borderColor: '#c8414f', borderWidth: 2.5 } }] },
      { ...lineLegend, left: 620, top: 1168, itemWidth: 26, textStyle: legendText, data: ['日本国债市场流动性压力指数，rhs'] },
    ],
    graphic: [
      { type: 'text', x: 508, y: 24, style: { text: '图表 41：日本通胀', fontFamily: CJK, fontSize: 23, fontWeight: 'bold', fill: '#667b97', align: 'center', verticalAlign: 'middle' } },
      { type: 'text', x: 70, y: 100, style: { text: '%', fontFamily: CJK, fontSize: 11, fill: '#333', verticalAlign: 'middle' } },
      { type: 'line', shape: { x1: 10, y1: 447, x2: 1043, y2: 447 }, style: { stroke: '#333', lineWidth: 1 } },
      { type: 'line', shape: { x1: 10, y1: 831, x2: 1041, y2: 831 }, style: { stroke: '#333', lineWidth: 1 } },
      { type: 'text', x: 88, y: 866, style: { text: '日本国债收益率曲线（%）', fontFamily: CJK, fontSize: 14, fill: '#222', verticalAlign: 'middle' } },
      { type: 'text', x: 605, y: 867, style: { text: '十亿日元', fontFamily: CJK, fontSize: 15, fill: '#222', verticalAlign: 'middle' } },
      { type: 'text', x: 1028, y: 1240, style: { text: '资料来源：Macrobond，兴业研究', fontFamily: CJK, fontSize: 16, fontWeight: 'bold', fill: '#888', align: 'right', verticalAlign: 'middle' } },
    ],
    series: [
      ...barSeries,
      {
        type: 'line', name: '日本核心CPI（%）', xAxisIndex: 0, yAxisIndex: 0, symbol: 'none',
        data: coreCPI.slice(31),
        lineStyle: { color: '#c8414f', width: 3 }, itemStyle: { color: '#c8414f' },
      },
      {
        type: 'line', name: '日本核心CPI（不含能源，%）', xAxisIndex: 0, yAxisIndex: 0, symbol: 'none',
        data: coreExEnergy,
        lineStyle: { color: '#000000', width: 3 }, itemStyle: { color: '#000000' },
      },
      // panel 2
      {
        type: 'line', name: '10Y盈亏平衡通胀率（%，先行8个月）', xAxisIndex: 1, yAxisIndex: 1, symbol: 'none',
        data: toPairs(breakeven, 2017, 5),
        lineStyle: { color: '#c2d6ef', width: 3 }, itemStyle: { color: '#c2d6ef' },
      },
      {
        type: 'line', name: 'OECD预测核心CPI同比（%）', xAxisIndex: 1, yAxisIndex: 1, symbol: 'none',
        data: toPairs(oecdCore, 2017, 5),
        lineStyle: { color: '#f28ca2', width: 3, type: [8, 6] }, itemStyle: { color: '#f28ca2' },
      },
      {
        type: 'line', name: 'OECD预测（延伸）', xAxisIndex: 1, yAxisIndex: 1, symbol: 'none',
        data: toPairs(oecdProj, 2023, 6),
        lineStyle: { color: '#f8c8d2', width: 3 }, itemStyle: { color: '#f8c8d2' },
      },
      {
        type: 'line', name: '核心CPI同比（%），rhs', xAxisIndex: 1, yAxisIndex: 2, symbol: 'none',
        data: toPairs(coreCPI.slice(88), 2017, 5),
        lineStyle: { color: '#1f3d6d', width: 3 }, itemStyle: { color: '#1f3d6d' },
      },
      // panel 3
      {
        type: 'line', name: '日本总现金收入增速（%）', xAxisIndex: 2, yAxisIndex: 3, symbol: 'none',
        data: toPairs(wages, 2010, 1),
        lineStyle: { color: '#bed3ee', width: 3 }, itemStyle: { color: '#bed3ee' },
      },
      {
        type: 'line', name: '日本产出缺口（%，日本央行口径），rhs', xAxisIndex: 2, yAxisIndex: 4, symbol: 'none',
        data: outputGap.map((v, q) => [2010 + (q * 3 + 1.5) / 12, v]),
        lineStyle: { color: '#f28ca2', width: 3, type: [8, 6] }, itemStyle: { color: '#f28ca2' },
      },
      {
        type: 'line', name: '日本核心CPI同比（%）', xAxisIndex: 2, yAxisIndex: 3, symbol: 'none',
        data: toPairs(coreCPI, 2010, 1),
        lineStyle: { color: '#1f3d6d', width: 3 }, itemStyle: { color: '#1f3d6d' },
      },
      // panel 4
      ...curveDefs.map((c) => ({
        type: 'line', name: c.name, xAxisIndex: 3, yAxisIndex: 5, symbol: 'none', data: c.data,
        lineStyle: { color: c.color, width: 3, type: c.type }, itemStyle: { color: c.color },
      })),
      // panel 5
      {
        type: 'line', name: '日本央行固定利率购买5Y-10Y日债规模', xAxisIndex: 4, yAxisIndex: 6, symbol: 'none',
        data: bojDates.map((d, i) => [dayOf(d), bojAmounts[i]]),
        lineStyle: { color: '#c8414f', width: 1 }, areaStyle: { color: '#c8414f', opacity: 1 }, itemStyle: { color: '#c8414f' },
      },
      {
        type: 'line', name: '日本国债市场流动性压力指数，rhs', xAxisIndex: 4, yAxisIndex: 7, symbol: 'none',
        data: liquidity.map((v, i) => [liqStartDay + 7 * i, v]),
        lineStyle: { color: '#3d4b6b', width: 3.5, type: [7, 5] }, itemStyle: { color: '#3d4b6b' },
      },
    ],
  };
}

export default function App() {
  const ref = useRef<HTMLDivElement>(null);
  useEffect(() => {
    document.body.style.margin = '0';
    const chart = echarts.init(ref.current as HTMLDivElement, null, { renderer: 'svg', width: 1052, height: 1257 });
    chart.setOption(buildOption());
    return () => chart.dispose();
  }, []);
  return <div ref={ref} style={{ width: 1052, height: 1257 }} />;
}
